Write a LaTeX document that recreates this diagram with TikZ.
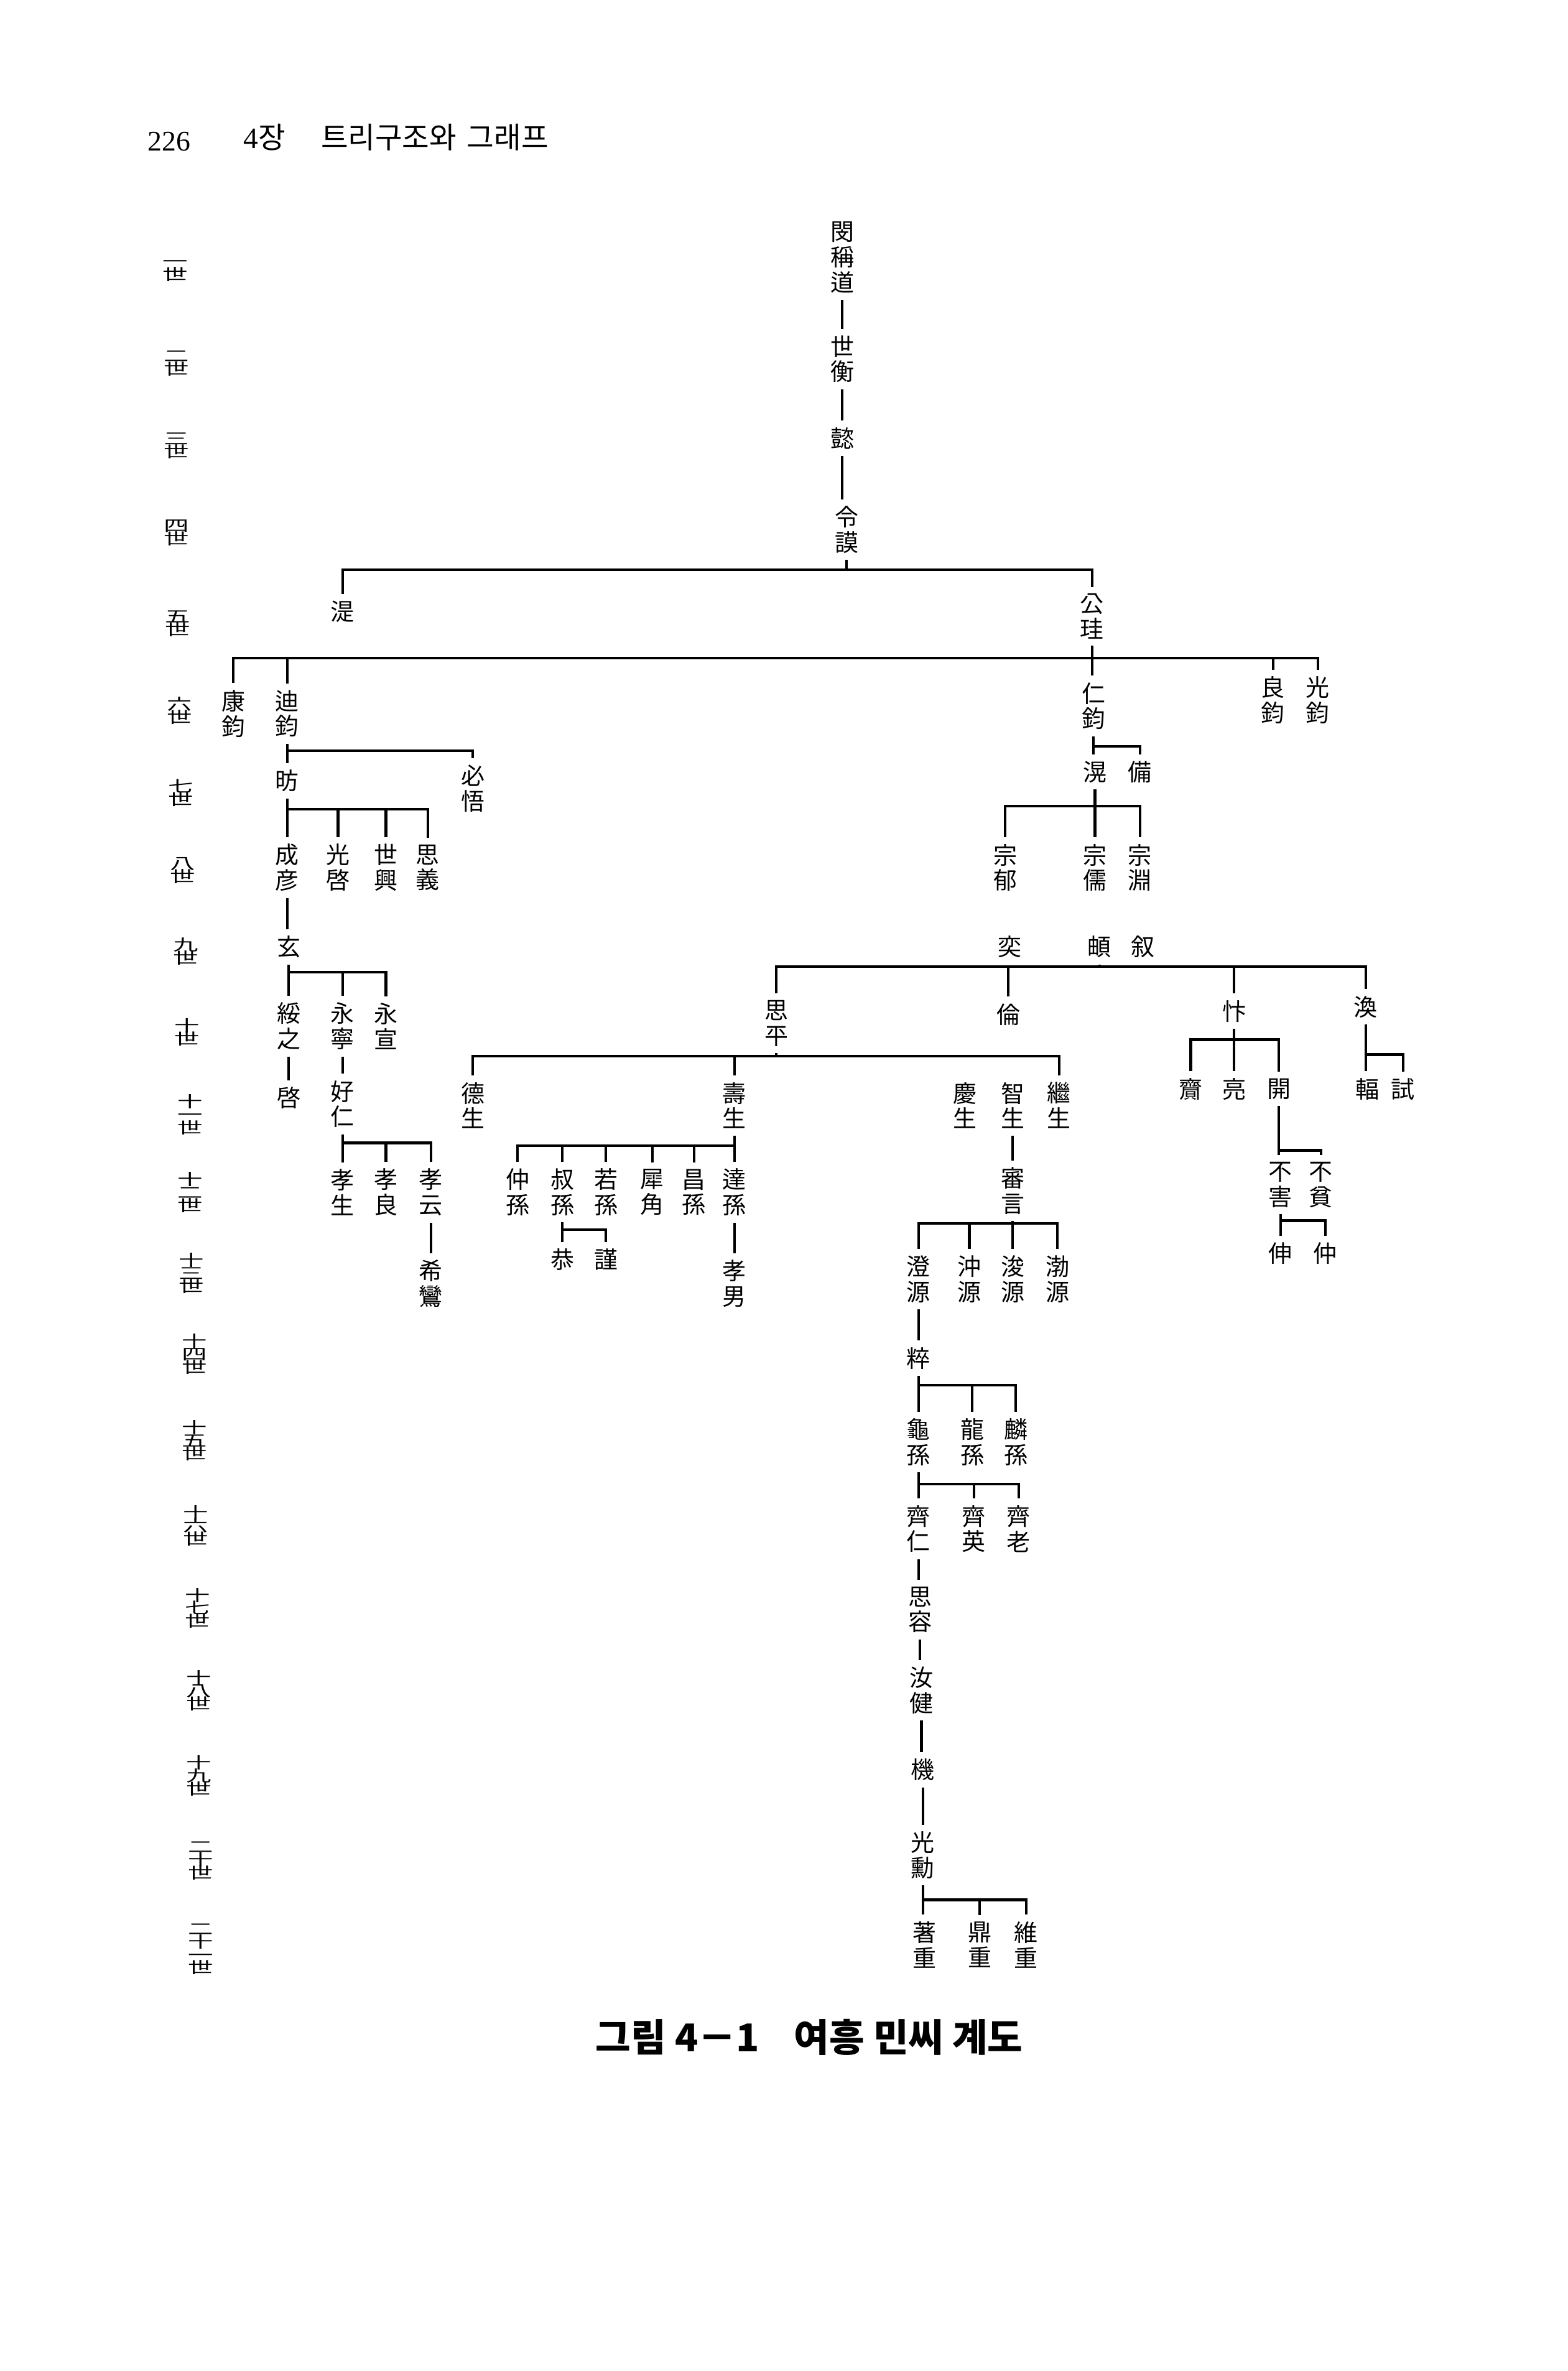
\documentclass[tikz,border=0pt]{standalone}
\usepackage{fontspec}
\setmainfont{Liberation Serif}
\newfontfamily\kr{Noto Sans CJK KR}
\def\stackch#1{\ifx#1\relax\else\hbox{#1}\expandafter\stackch\fi}
\newcommand\vname[1]{\vbox{\baselineskip=11.6pt\lineskiplimit=-\maxdimen\stackch#1\relax}}
\newcommand\gen[1]{\scalebox{1}[0.62]{\vbox{\baselineskip=9.6pt\lineskiplimit=-\maxdimen\stackch#1\relax}}}
\begin{document}
\begin{tikzpicture}[x=0.02405cm, y=-0.02405cm, line width=1.2pt,
  person/.style={font=\kr\fontsize{10.8}{11.6}\selectfont, inner xsep=1pt, inner ysep=2.5pt},
  genlabel/.style={font=\kr\fontsize{11.5}{10}\selectfont, inner sep=0pt}]
\fill[white] (0,0) rectangle (1048,1585);
\useasboundingbox (0,0) rectangle (1048,1585);

% page head
\node[anchor=base west, font=\fontsize{13}{15}\selectfont, inner sep=0pt] (pageno) at (98,101) {226};
\node[anchor=base west, font=\fontsize{13.5}{15}\selectfont, inner sep=0pt] (chapter) at (162,99) {4{\kr 장\hspace{1.2em}트리구조와\hspace{0.35em}그래프}};

% generations
\node[genlabel] (g1) at (117,181) {\gen{一世}};
\node[genlabel] (g2) at (118,243) {\gen{二世}};
\node[genlabel] (g3) at (118,298) {\gen{三世}};
\node[genlabel] (g4) at (118,356) {\gen{四世}};
\node[genlabel] (g5) at (119,417) {\gen{五世}};
\node[genlabel] (g6) at (120,475) {\gen{六世}};
\node[genlabel] (g7) at (121,530) {\gen{七世}};
\node[genlabel] (g8) at (122,582) {\gen{八世}};
\node[genlabel] (g9) at (124,636) {\gen{九世}};
\node[genlabel] (g10) at (125,690) {\gen{十世}};
\node[genlabel] (g11) at (127,745) {\gen{十一世}};
\node[genlabel] (g12) at (127,797) {\gen{十二世}};
\node[genlabel] (g13) at (128,851) {\gen{十三世}};
\node[genlabel] (g14) at (130,905) {\gen{十四世}};
\node[genlabel] (g15) at (130,963) {\gen{十五世}};
\node[genlabel] (g16) at (131,1020) {\gen{十六世}};
\node[genlabel] (g17) at (132,1075) {\gen{十七世}};
\node[genlabel] (g18) at (133,1130) {\gen{十八世}};
\node[genlabel] (g19) at (133,1187) {\gen{十九世}};
\node[genlabel] (g20) at (134,1244) {\gen{二十世}};
\node[genlabel] (g21) at (134,1303) {\gen{二十一世}};

% 1-5
\node[person] (chingdo) at (563,172) {\vname{閔稱道}};
\node[person] (seheng) at (563,240) {\vname{世衡}};
\node[person] (ui) at (563,293) {\vname{懿}};
\node[person] (lingmo) at (566,354) {\vname{令謨}};
\node[person] (sik) at (229,409) {\vname{湜}};
\node[person] (gonggyu) at (730,412) {\vname{公珪}};

% 6
\node[person] (kanggyun) at (156,477) {\vname{康鈞}};
\node[person] (jeokgyun) at (192,477) {\vname{迪鈞}};
\node[person] (ingyun) at (731,472) {\vname{仁鈞}};
\node[person] (ryanggyun) at (851,468) {\vname{良鈞}};
\node[person] (gwanggyun) at (881,468) {\vname{光鈞}};

% 7
\node[person] (bang) at (192,522) {\vname{昉}};
\node[person] (piro) at (316,527) {\vname{必悟}};
\node[person] (hwang) at (732,516) {\vname{滉}};
\node[person] (bi) at (762,516) {\vname{備}};

% 8
\node[person] (seongeon) at (192,580) {\vname{成彦}};
\node[person] (gwanggye) at (226,580) {\vname{光啓}};
\node[person] (seheung) at (258,580) {\vname{世興}};
\node[person] (sauei) at (286,580) {\vname{思義}};
\node[person] (jonguk) at (672,580) {\vname{宗郁}};
\node[person] (jongyu) at (732,580) {\vname{宗儒}};
\node[person] (jongyeon) at (762,580) {\vname{宗淵}};

% 9
\node[person] (hyeon) at (193,633) {\vname{玄}};
\node[person] (hyeok) at (675,633) {\vname{奕}};
\node[person] (jeok) at (735,633) {\vname{頔}};
\node[person] (seo) at (764,633) {\vname{叙}};

% 10
\node[person] (suji) at (193,686) {\vname{綏之}};
\node[person] (yeongnyeong) at (229,686) {\vname{永寧}};
\node[person] (yeongseon) at (258,686) {\vname{永宣}};
\node[person] (sapyeong) at (519,684) {\vname{思平}};
\node[person] (ryun) at (674,678) {\vname{倫}};
\node[person] (byeon) at (825,676) {\vname{忭}};
\node[person] (hwan) at (913,673) {\vname{渙}};

% 11
\node[person] (gye) at (193,734) {\vname{啓}};
\node[person] (hoin) at (229,738) {\vname{好仁}};
\node[person] (deoksaeng) at (316,739) {\vname{德生}};
\node[person] (susaeng) at (491,739) {\vname{壽生}};
\node[person] (gyeongsaeng) at (645,739) {\vname{慶生}};
\node[person] (jisaeng) at (677,739) {\vname{智生}};
\node[person] (gyesaeng) at (708,739) {\vname{繼生}};
\node[person] (jae) at (796,728) {\vname{齎}};
\node[person] (ryang) at (825,728) {\vname{亮}};
\node[person] (gae) at (855,728) {\vname{開}};
\node[person] (bok) at (914,728) {\vname{輻}};
\node[person] (si) at (938,728) {\vname{試}};

% 12
\node[person] (hyosaeng) at (229,797) {\vname{孝生}};
\node[person] (hyoryang) at (258,797) {\vname{孝良}};
\node[person] (hyoun) at (288,797) {\vname{孝云}};
\node[person] (jungson) at (346,797) {\vname{仲孫}};
\node[person] (sukson) at (376,797) {\vname{叔孫}};
\node[person] (yakson) at (405,797) {\vname{若孫}};
\node[person] (seogak) at (436,797) {\vname{犀角}};
\node[person] (changson) at (464,797) {\vname{昌孫}};
\node[person] (dalson) at (491,797) {\vname{達孫}};
\node[person] (simeon) at (677,796) {\vname{審言}};
\node[person] (bulhae) at (856,792) {\vname{不害}};
\node[person] (bulbin) at (883,792) {\vname{不貧}};

% 13
\node[person] (huiran) at (288,858) {\vname{希鸞}};
\node[person] (gong) at (376,842) {\vname{恭}};
\node[person] (geun) at (405,842) {\vname{謹}};
\node[person] (hyonam) at (491,858) {\vname{孝男}};
\node[person] (jingwon) at (614,855) {\vname{澄源}};
\node[person] (chungwon) at (648,855) {\vname{沖源}};
\node[person] (junwon) at (677,855) {\vname{浚源}};
\node[person] (balwon) at (707,855) {\vname{渤源}};
\node[person] (sin) at (856,838) {\vname{伸}};
\node[person] (jung) at (886,838) {\vname{仲}};

% 14-21
\node[person] (su) at (614,908) {\vname{粹}};
\node[person] (guson) at (614,964) {\vname{龜孫}};
\node[person] (yongson) at (650,964) {\vname{龍孫}};
\node[person] (rinson) at (679,964) {\vname{麟孫}};
\node[person] (jein) at (614,1022) {\vname{齊仁}};
\node[person] (jeyeong) at (651,1022) {\vname{齊英}};
\node[person] (jero) at (681,1022) {\vname{齊老}};
\node[person] (sayong) at (615,1076) {\vname{思容}};
\node[person] (yeogeon) at (616,1130) {\vname{汝健}};
\node[person] (gi) at (617,1183) {\vname{機}};
\node[person] (gwanghun) at (617,1240) {\vname{光勳}};
\node[person] (jeojung) at (618,1300) {\vname{著重}};
\node[person] (jeongjung) at (655,1300) {\vname{鼎重}};
\node[person] (yujung) at (686,1300) {\vname{維重}};

% lines, 1-5
\draw (chingdo.south) -- (chingdo.south |- seheng.north);
\draw (seheng.south) -- (seheng.south |- ui.north);
\draw (ui.south) -- (ui.south |- lingmo.north);
\draw (sik.north) |- (gonggyu.north |- 0,381) -- (gonggyu.north)
      (lingmo.south) -- (lingmo.south |- 0,381);

% 6
\draw (kanggyun.north) |- (gwanggyun.north |- 0,440) -- (gwanggyun.north)
      (gonggyu.south) -- (gonggyu.south |- ingyun.north)
      (jeokgyun.north) -- (jeokgyun.north |- 0,440)
      (ryanggyun.north) -- (ryanggyun.north |- 0,440);

% 7
\draw (jeokgyun.south) -- (jeokgyun.south |- bang.north)
      (jeokgyun.south |- 0,502) -| (piro.north);
\draw (ingyun.south) -- (ingyun.south |- hwang.north)
      (ingyun.south |- 0,499) -| (bi.north);

% 8
\draw (bang.south) -- (bang.south |- seongeon.north)
      (bang.south |- 0,541) -| (sauei.north)
      (gwanggye.north) -- (gwanggye.north |- 0,541)
      (seheung.north) -- (seheung.north |- 0,541);
\draw (jonguk.north) |- (jongyeon.north |- 0,539) -- (jongyeon.north)
      (hwang.south) -- (hwang.south |- jongyu.north);

% 9-10
\draw (seongeon.south) -- (seongeon.south |- hyeon.north);
\draw (hyeon.south) -- (hyeon.south |- suji.north)
      (hyeon.south |- 0,650) -| (yeongseon.north)
      (yeongnyeong.north) -- (yeongnyeong.north |- 0,650);
\draw (sapyeong.north) |- (hwan.north |- 0,646) -- (hwan.north)
      (jeok.south) -- (jeok.south |- 0,646)
      (ryun.north) -- (ryun.north |- 0,646)
      (byeon.north) -- (byeon.north |- 0,646);

% 11
\draw (suji.south) -- (suji.south |- gye.north);
\draw (yeongnyeong.south) -- (yeongnyeong.south |- hoin.north);
\draw (deoksaeng.north) |- (gyesaeng.north |- 0,706) -- (gyesaeng.north)
      (sapyeong.south) -- (sapyeong.south |- 0,706)
      (susaeng.north) -- (susaeng.north |- 0,706);
\draw (jae.north) |- (gae.north |- 0,695) -- (gae.north)
      (byeon.south) -- (byeon.south |- ryang.north);
\draw (hwan.south) -- (hwan.south |- bok.north)
      (hwan.south |- 0,705) -| (si.north);

% 12
\draw (hoin.south) -- (hoin.south |- hyosaeng.north)
      (hoin.south |- 0,764) -| (hyoun.north)
      (hyoryang.north) -- (hyoryang.north |- 0,764);
\draw (jungson.north) |- (dalson.north |- 0,766) -- (dalson.north)
      (susaeng.south) -- (susaeng.south |- 0,766)
      (sukson.north) -- (sukson.north |- 0,766)
      (yakson.north) -- (yakson.north |- 0,766)
      (seogak.north) -- (seogak.north |- 0,766)
      (changson.north) -- (changson.north |- 0,766);
\draw (jisaeng.south) -- (jisaeng.south |- simeon.north);
\draw (gae.south) -- (gae.south |- bulhae.north)
      (gae.south |- 0,769) -| (bulbin.north);

% 13
\draw (hyoun.south) -- (hyoun.south |- huiran.north);
\draw (sukson.south) -- (sukson.south |- gong.north)
      (sukson.south |- 0,822) -| (geun.north);
\draw (dalson.south) -- (dalson.south |- hyonam.north);
\draw (jingwon.north) |- (balwon.north |- 0,818) -- (balwon.north)
      (simeon.south) -- (simeon.south |- junwon.north)
      (chungwon.north) -- (chungwon.north |- 0,818);
\draw (bulhae.south) -- (bulhae.south |- sin.north)
      (bulhae.south |- 0,816) -| (jung.north);

% 14-21
\draw (jingwon.south) -- (jingwon.south |- su.north);
\draw (su.south) -- (su.south |- guson.north)
      (su.south |- 0,926) -| (rinson.north)
      (yongson.north) -- (yongson.north |- 0,926);
\draw (guson.south) -- (guson.south |- jein.north)
      (guson.south |- 0,992) -| (jero.north)
      (jeyeong.north) -- (jeyeong.north |- 0,992);
\draw (jein.south) -- (jein.south |- sayong.north);
\draw (sayong.south) -- (sayong.south |- yeogeon.north);
\draw (yeogeon.south) -- (yeogeon.south |- gi.north);
\draw (gi.south) -- (gi.south |- gwanghun.north);
\draw (gwanghun.south) -- (gwanghun.south |- jeojung.north)
      (gwanghun.south |- 0,1270) -| (yujung.north)
      (jeongjung.north) -- (jeongjung.north |- 0,1270);

% caption
\node[font=\kr\bfseries\fontsize{17.5}{20}\selectfont, inner sep=0pt] (caption) at (541,1362) {그림 4－1\hspace{0.9em}여흥 민씨 계도};
\end{tikzpicture}
\end{document}
